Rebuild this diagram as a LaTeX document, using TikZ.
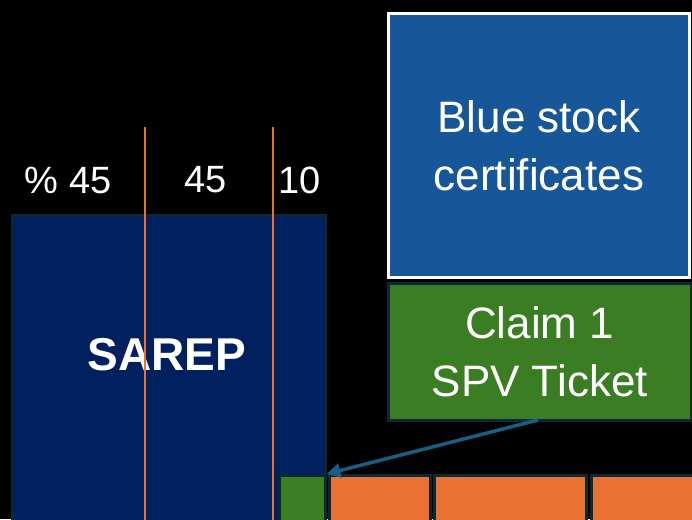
\documentclass[tikz,border=0pt]{standalone}
\usepackage{fontspec}
\setmainfont{Liberation Sans}
\usetikzlibrary{arrows.meta}
\usetikzlibrary{positioning}

\definecolor{sarepblue}{RGB}{0,32,96}
\definecolor{edgedark}{RGB}{12,40,55}
\definecolor{stockblue}{RGB}{24,86,154}
\definecolor{ticketgreen}{RGB}{59,125,35}
\definecolor{trancheorange}{RGB}{233,113,50}
\definecolor{arrowteal}{RGB}{21,96,130}

\tikzset{
  block/.style={rectangle,draw=edgedark,line width=2.5pt,anchor=north west,inner sep=0pt},
  boxtext/.style={text=white,align=center,font=\fontsize{44}{58}\selectfont},
  share/.style={text=white,font=\fontsize{38}{40}\selectfont},
  split/.style={draw=trancheorange,line width=2.5pt}
}

\begin{document}
\begin{tikzpicture}[x=1pt,y=-1pt]

  \useasboundingbox [fill=black] (0,0) rectangle (692,519);
  \clip (0,0) rectangle (692,519);

  % left stack
  \node [block,fill=sarepblue,minimum width=313pt,minimum height=320pt] (sarep) at (11,214) {};
  \node [text=white,font=\bfseries\fontsize{46}{50}\selectfont] (sarepLab) at (167,355) {SAREP};

  \draw [split] (145,127) -- (145,530);
  \draw [split] (273,127) -- (273,530);

  \node [share] (s_0) at (68,180) {\% 45};
  \node [share] (s_1) at (206,180) {45};
  \node [share] (s_2) at (300,180) {10};

  % right stack
  \node [block,draw=white,fill=stockblue,minimum width=301pt,minimum height=264pt,line width=3pt] (stock) at (387,12) {};
  \node [boxtext] at (stock.center) {Blue stock\\certificates};

  \node [block,fill=ticketgreen,minimum width=303pt,minimum height=137pt] (ticket) at (387,282) {};
  \node [boxtext] at (ticket.center) {Claim 1\\SPV Ticket};

  % bottom row
  \node [block,fill=ticketgreen,minimum width=46pt,minimum height=60pt] (t_0) at (278,474) {};
  \node [block,fill=trancheorange,minimum width=101pt,minimum height=60pt] (t_1) at (328,474) {};
  \node [block,fill=trancheorange,minimum width=152pt,minimum height=60pt] (t_2) at (433,474) {};
  \node [block,fill=trancheorange,minimum width=110pt,minimum height=60pt] (t_3) at (590,474) {};

  \coordinate (ticketOut) at (538,420);
  \draw [draw=arrowteal,line width=3.5pt,-{Triangle[length=14pt,width=14pt]}]
    (ticketOut) -- (t_0.north east);

\end{tikzpicture}
\end{document}
